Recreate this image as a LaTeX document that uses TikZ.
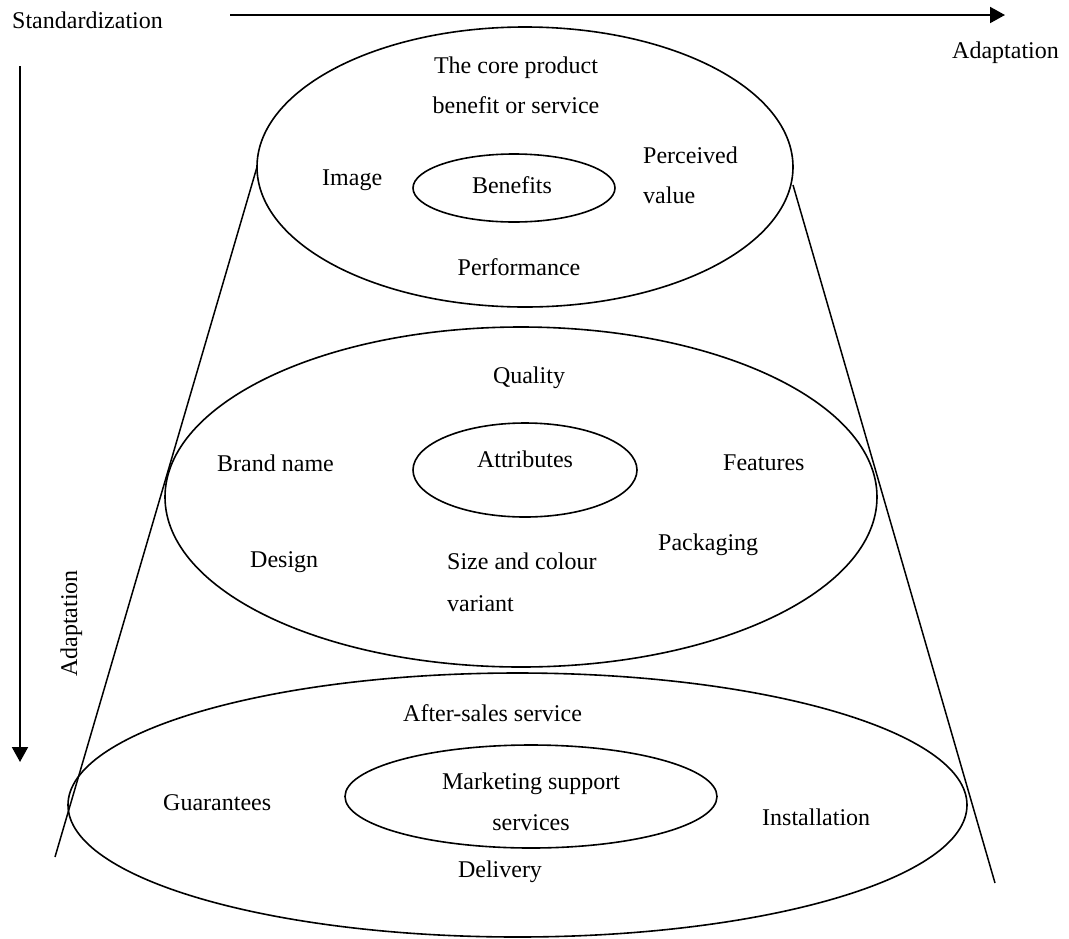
\documentclass[tikz,border=0pt]{standalone}
\usepackage{fontspec}
\setmainfont{Liberation Serif}
\usetikzlibrary{shapes.geometric,arrows.meta}
\begin{document}
\begin{tikzpicture}[x=1pt,y=-1pt,
  lbl/.style={inner sep=0pt,font=\fontsize{24}{28}\selectfont},
  ring/.style={draw,ellipse,line width=1.6pt,inner sep=0pt},
  side/.style={line width=1.5pt},
  axis/.style={line width=2pt,-{Triangle[length=15pt,width=16pt]}}]
\useasboundingbox (0,0) rectangle (1069,938);

% axes
\coordinate (hs) at (230,15);
\coordinate (he) at (1005,15);
\coordinate (vs) at (20,66);
\coordinate (ve) at (20,762);
\draw[axis] (hs) -- (he);
\draw[axis] (vs) -- (ve);
\node[lbl,anchor=base west] (std) at (12,28) {Standardization};
\node[lbl,anchor=base west] (adh) at (952,58) {Adaptation};
\node[lbl,anchor=base west,rotate=90] (adv) at (77,677) {Adaptation};

% cone sides
\coordinate (l1) at (257,167);
\coordinate (l2) at (55,857);
\coordinate (r1) at (793,185);
\coordinate (r2) at (995,883);
\draw[side] (l1) -- (l2);
\draw[side] (r1) -- (r2);

% rings
\node[ring,fill=white,minimum width=536pt,minimum height=280pt] (core) at (525,167) {};
\node[ring,minimum width=202pt,minimum height=68pt] (ben) at (514,188) {};
\node[ring,minimum width=712pt,minimum height=340pt] (mid) at (521,497) {};
\node[ring,minimum width=224pt,minimum height=94pt] (att) at (525,470) {};
\node[ring,minimum width=899pt,minimum height=264pt] (low) at (517.5,805) {};
\node[ring,minimum width=372pt,minimum height=103pt] (mss) at (531,796.5) {};

% core product
\node[lbl,anchor=base] (t1) at (516,73) {The core product};
\node[lbl,anchor=base] (t2) at (516,113) {benefit or service};
\node[lbl,anchor=base west] (img) at (322,185) {Image};
\node[lbl,anchor=base] (bnf) at (512,193) {Benefits};
\node[lbl,anchor=base west] (pv1) at (643,163) {Perceived};
\node[lbl,anchor=base west] (pv2) at (643,203) {value};
\node[lbl,anchor=base] (perf) at (519,275) {Performance};

% attributes
\node[lbl,anchor=base] (qual) at (529,383) {Quality};
\node[lbl,anchor=base west] (brand) at (217,471) {Brand name};
\node[lbl,anchor=base] (attr) at (525,467) {Attributes};
\node[lbl,anchor=base west] (feat) at (723,470) {Features};
\node[lbl,anchor=base west] (pack) at (658,550) {Packaging};
\node[lbl,anchor=base west] (des) at (250,567) {Design};
\node[lbl,anchor=base west] (sz1) at (447,569) {Size and colour};
\node[lbl,anchor=base west] (sz2) at (447,611) {variant};

% support services
\node[lbl,anchor=base west] (after) at (403,721) {After-sales service};
\node[lbl,anchor=base west] (guar) at (163,810) {Guarantees};
\node[lbl,anchor=base] (ms1) at (531,789) {Marketing support};
\node[lbl,anchor=base] (ms2) at (531,830) {services};
\node[lbl,anchor=base west] (inst) at (762,825) {Installation};
\node[lbl,anchor=base] (deliv) at (500,877) {Delivery};
\end{tikzpicture}
\end{document}
